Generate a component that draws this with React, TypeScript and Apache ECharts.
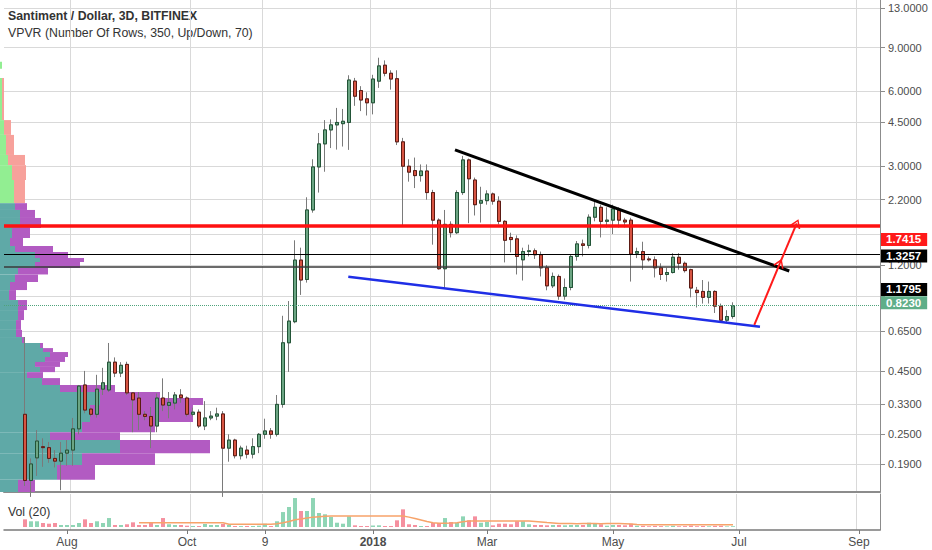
import React, { useEffect, useRef } from 'react';
import * as echarts from 'echarts';

const FONT = '"Liberation Sans", Arial, sans-serif';

// ---- time slots (3-day bars) ----
const slotCount = 146;
const firstSlot = 3; // slot of the first candle
const categories: string[] = Array.from({ length: slotCount }, (_, k) =>
  new Date(Date.UTC(2017, 6, 1) + k * 3 * 86400000).toISOString().slice(0, 10)
);
const xTickSlots = [10, 30, 43, 61, 80, 101, 122, 142];
const xTickLabels = ['Aug', 'Oct', '9', '2018', 'Mar', 'May', 'Jul', 'Sep'];
const xGridSlots = [11, 31, 43, 61, 81, 101, 122, 142];

// ---- price axis ----
const priceMin = 0.1465;
const priceMax = 14.0;
const priceTicks = [13, 9, 6, 4.5, 3, 2.2, 1.6, 1.2, 0.9, 0.65, 0.45, 0.33, 0.25, 0.19];
const priceLabelTicks = [13, 9, 6, 4.5, 3, 2.2, 1.2, 0.65, 0.45, 0.33, 0.25, 0.19];

// ---- candles [open, close, low, high] ----
const candles: number[][] = [
  [0.301, 0.163, 0.155, 0.616], [0.163, 0.19, 0.14, 0.2], [0.201, 0.235, 0.17, 0.26], [0.223, 0.221, 0.185, 0.241],
  [0.221, 0.2, 0.192, 0.233], [0.2, 0.195, 0.184, 0.216], [0.195, 0.21, 0.149, 0.233], [0.21, 0.216, 0.187, 0.237],
  [0.216, 0.263, 0.187, 0.291], [0.263, 0.391, 0.25, 0.395], [0.395, 0.313, 0.304, 0.45], [0.316, 0.301, 0.295, 0.32],
  [0.301, 0.38, 0.292, 0.434], [0.38, 0.403, 0.36, 0.463], [0.377, 0.488, 0.37, 0.583], [0.488, 0.441, 0.425, 0.51],
  [0.441, 0.474, 0.425, 0.488], [0.478, 0.367, 0.36, 0.49], [0.367, 0.344, 0.255, 0.37], [0.35, 0.301, 0.26, 0.37],
  [0.301, 0.295, 0.285, 0.31], [0.295, 0.27, 0.22, 0.322], [0.27, 0.35, 0.255, 0.365], [0.35, 0.328, 0.31, 0.42],
  [0.327, 0.336, 0.29, 0.37], [0.334, 0.36, 0.315, 0.37], [0.36, 0.351, 0.335, 0.38], [0.35, 0.301, 0.295, 0.355],
  [0.301, 0.307, 0.295, 0.32], [0.307, 0.27, 0.265, 0.315], [0.27, 0.291, 0.26, 0.34], [0.291, 0.296, 0.285, 0.31],
  [0.296, 0.302, 0.285, 0.32], [0.302, 0.22, 0.14, 0.31], [0.22, 0.237, 0.194, 0.25], [0.237, 0.205, 0.2, 0.24],
  [0.205, 0.22, 0.198, 0.225], [0.216, 0.208, 0.2, 0.225], [0.208, 0.223, 0.2, 0.241], [0.223, 0.25, 0.21, 0.253],
  [0.25, 0.258, 0.24, 0.289], [0.258, 0.25, 0.24, 0.265], [0.25, 0.33, 0.245, 0.36], [0.33, 0.584, 0.32, 0.75],
  [0.584, 0.714, 0.446, 0.86], [0.71, 1.257, 0.7, 1.51], [1.257, 1.045, 0.91, 1.41], [1.05, 2.0, 1.02, 2.25],
  [2.0, 2.98, 1.95, 3.2], [2.98, 3.69, 2.35, 4.08], [3.69, 4.2, 2.85, 4.6], [4.2, 4.4, 3.55, 4.63],
  [4.4, 4.5, 3.5, 5.15], [4.45, 4.55, 3.6, 5.1], [4.5, 6.67, 3.49, 6.97], [6.6, 5.74, 5.25, 6.8],
  [6.05, 5.54, 5.0, 6.3], [5.6, 5.4, 4.8, 5.95], [5.4, 6.73, 4.85, 7.0], [6.6, 7.6, 6.2, 8.2],
  [7.65, 7.1, 6.9, 8.0], [7.1, 6.73, 6.1, 7.3], [6.75, 3.76, 3.65, 7.3], [3.76, 3.0, 1.73, 3.9],
  [3.0, 2.84, 2.6, 3.2], [2.88, 2.75, 2.45, 3.25], [2.75, 2.87, 2.6, 3.05], [2.87, 2.35, 2.2, 3.05],
  [2.35, 1.82, 1.45, 2.41], [1.82, 1.16, 1.15, 1.85], [1.16, 1.75, 0.97, 2.0], [1.75, 1.62, 1.55, 1.8],
  [1.62, 2.35, 1.6, 2.4], [2.35, 3.18, 2.3, 3.3], [3.18, 2.67, 1.77, 3.22], [2.64, 2.1, 1.9, 2.7],
  [2.13, 2.18, 1.78, 2.48], [2.18, 2.32, 2.1, 2.4], [2.32, 2.17, 2.1, 2.35], [2.17, 1.8, 1.75, 2.27],
  [1.8, 1.51, 1.23, 1.82], [1.55, 1.52, 1.35, 1.62], [1.53, 1.3, 1.1, 1.58], [1.26, 1.36, 1.04, 1.41],
  [1.36, 1.37, 1.3, 1.45], [1.37, 1.32, 1.27, 1.4], [1.32, 1.17, 1.08, 1.36], [1.17, 0.99, 0.95, 1.2],
  [0.99, 1.08, 0.97, 1.12], [1.08, 0.9, 0.87, 1.1], [0.9, 0.975, 0.87, 1.06], [0.975, 1.3, 0.95, 1.32],
  [1.3, 1.46, 1.25, 1.5], [1.46, 1.44, 1.3, 1.52], [1.44, 1.87, 1.4, 1.92], [1.87, 2.05, 1.8, 2.18],
  [2.05, 1.8, 1.55, 2.1], [1.8, 1.82, 1.7, 2.05], [1.82, 2.02, 1.6, 2.1], [2.0, 1.82, 1.7, 2.05],
  [1.82, 1.79, 1.7, 1.86], [1.82, 1.33, 1.03, 1.86], [1.34, 1.36, 1.28, 1.41], [1.36, 1.26, 1.15, 1.49],
  [1.27, 1.26, 1.24, 1.3], [1.26, 1.17, 1.07, 1.3], [1.17, 1.1, 1.045, 1.22], [1.1, 1.12, 1.03, 1.17],
  [1.12, 1.29, 1.11, 1.34], [1.29, 1.22, 1.15, 1.34], [1.22, 1.14, 1.12, 1.24], [1.15, 0.97, 0.89, 1.16],
  [0.95, 0.93, 0.81, 0.98], [0.94, 0.89, 0.84, 1.045], [0.89, 0.94, 0.84, 1.03], [0.94, 0.82, 0.77, 0.95],
  [0.82, 0.72, 0.71, 0.84], [0.72, 0.745, 0.7, 0.79], [0.745, 0.823, 0.73, 0.85],
];

// ---- volume (thousands) ----
const volumes: number[] = [
  590, 440, 440, 310, 255, 310, 155, 155, 155, 310,
  590, 310, 440, 310, 690, 155, 155, 210, 360, 155,
  155, 330, 155, 690, 210, 155, 155, 100, 77, 77,
  230, 155, 155, 230, 155, 77, 70, 80, 77, 100,
  255, 77, 440, 1150, 1540, 2230, 1230, 1230, 2230, 1080,
  980, 770, 330, 255, 820, 130, 77, 77, 115, 130,
  77, 77, 515, 1360, 210, 155, 77, 77, 310, 310,
  690, 385, 330, 820, 515, 820, 330, 385, 130, 255,
  255, 210, 440, 440, 210, 155, 155, 130, 155, 155,
  130, 155, 155, 155, 330, 255, 210, 100, 155, 155,
  130, 255, 100, 90, 60, 85, 70, 50, 95, 60,
  70, 110, 60, 75, 55, 90, 100, 45, 60.905,
];
const volumeMA: (number | null)[] = [
  null, null, null, null, null, null, null, null, null, null,
  null, null, null, null, null, null, null, null, null, 335,
  332, 330, 332, 335, 333, 330, 328, 330, 332, 330,
  328, 326, 328, 330, 215, 212, 210, 208, 210, 212,
  210, 212, 250, 330, 420, 560, 620, 700, 760, 790,
  820, 840, 850, 852, 850, 848, 850, 852, 850, 848,
  850, 852, 850, 848, 760, 650, 540, 430, 330, 290,
  290, 300, 330, 400, 455, 460, 462, 460, 458, 460,
  462, 460, 458, 460, 460, 420, 380, 340, 310, 265,
  262, 260, 258, 260, 262, 260, 258, 260, 262, 260,
  258, 230, 185, 182, 180, 178, 180, 182, 180, 178,
  180, 182, 180, 178, 180, 182, 180, 178, 180,
];
const volumeTagValue = 1384;
const volumeLast = 60.905;

// ---- horizontal levels & drawings (slot index, price) ----
const priceLevels = [1.7415, 1.3257, 1.1795, 0.823];
const resistanceLine = [[74.67, 3.49], [130.38, 1.136]];
const supportLine = [[56.88, 1.078], [125.5, 0.678]];
const targetArrow = [[124.55, 0.689], [128.83, 1.223], [131.62, 1.767]];

// ---- visible range volume profile rows: [low, high, upVolume, downVolume] ----
const vpRows: number[][] = [
  [7.4, 7.9, 2, 0], [4.6, 6.79, 2, 2], [4.01, 4.6, 4, 7], [3.33, 4.01, 6, 8],
  [3.03, 3.33, 8, 17], [2.64, 3.03, 12, 14], [2.13, 2.64, 14, 11], [2.0, 2.13, 15, 12],
  [1.857, 2.0, 20, 15], [1.692, 1.857, 20, 21], [1.542, 1.692, 12, 18], [1.432, 1.542, 10, 13],
  [1.355, 1.432, 15, 38], [1.281, 1.355, 35, 33], [1.235, 1.281, 40, 44], [1.168, 1.235, 35, 45],
  [1.1, 1.168, 18, 30], [1.026, 1.1, 15, 23], [0.952, 1.026, 10, 17], [0.868, 0.952, 9, 7],
  [0.791, 0.868, 18, 9], [0.721, 0.791, 18, 6], [0.658, 0.721, 16, 5], [0.616, 0.658, 16, 6],
  [0.583, 0.616, 22, 3], [0.556, 0.583, 40, 3], [0.536, 0.556, 43, 10], [0.512, 0.536, 50, 18],
  [0.489, 0.512, 45, 20], [0.467, 0.489, 35, 25], [0.445, 0.467, 40, 15], [0.421, 0.445, 27, 16],
  [0.395, 0.421, 42, 18], [0.37, 0.395, 60, 55], [0.35, 0.37, 100, 60], [0.328, 0.35, 100, 103],
  [0.28, 0.328, 90, 103], [0.255, 0.28, 82, 73], [0.237, 0.255, 50, 70], [0.21, 0.237, 120, 90],
  [0.188, 0.21, 82, 73], [0.164, 0.188, 57, 38], [0.146, 0.164, 18, 17],
];
const valueAreaHigh = 2.13;
const profileScaleMax = 876;

const ln = Math.log;
const UP = '#6ba583';
const DOWN = '#d75442';
const GRID = '#d9d9d9';
const CHEVRON = 'path://M0,9 L5,0 L10,9 L8.6,9.6 L5,2.6 L1.4,9.6 Z';

function buildOption() {
  const wickData = candles.map((c, i) => [i + firstSlot, ln(c[0]), ln(c[1]), ln(c[2]), ln(c[3])]);
  const bodyData = candles.map((c, i) => [
    i + firstSlot, ln(c[0]), ln(c[1]), ln(Math.min(c[0], c[1])), ln(Math.max(c[0], c[1])),
  ]);
  const volData = volumes.map((v, i) => ({
    value: [i + firstSlot, v],
    itemStyle: { color: candles[i][1] >= candles[i][0] ? '#8fd5b5' : '#f5909f' },
  }));
  const maData = volumeMA
    .map((v, i) => (v == null ? null : [i + firstSlot, v]))
    .filter((d) => d !== null);
  const vpData = vpRows.map((r) => [ln(r[0]), ln(r[1]), r[2], r[3]]);

  const levelStyles = [
    { line: { color: '#ff1111', width: 3.5, type: 'solid' }, bg: '#ff1a1a', fg: '#ffffff', dy: 14 },
    { line: { color: '#000000', width: 1, type: 'solid' }, bg: '#000000', fg: '#ffffff', dy: 1.5 },
    { line: { color: '#3a3a3a', width: 1.5, type: 'solid' }, bg: '#000000', fg: '#ffffff', dy: 23 },
    { line: { color: '#4fa37b', width: 1, type: 'dotted' }, bg: '#5fae88', fg: '#ffffff', dy: -2.5 },
  ];
  const levelMarks = priceLevels.map((p, idx) => ({
    yAxis: ln(p),
    lineStyle: levelStyles[idx].line,
    label: {
      show: true,
      position: 'end',
      distance: 1,
      formatter: p.toFixed(4),
      backgroundColor: levelStyles[idx].bg,
      color: levelStyles[idx].fg,
      fontWeight: 'bold',
      fontSize: 11.5,
      fontFamily: FONT,
      lineHeight: 12,
      padding: [1, 6, 0, 5],
      offset: [0, levelStyles[idx].dy],
    },
  }));

  const segment = (a: number[], b: number[], color: string, width: number, endSymbol?: string) => [
    { coord: [a[0], ln(a[1])], symbol: 'none', lineStyle: { color, width, type: 'solid' } },
    {
      coord: [b[0], ln(b[1])],
      symbol: endSymbol || 'none',
      symbolSize: [11, 9],
      lineStyle: { color, width, type: 'solid' },
    },
  ];

  return {
    animation: false,
    backgroundColor: '#ffffff',
    textStyle: { fontFamily: FONT },
    grid: [
      { left: 4, top: 0, width: 876, height: 492 },
      { left: 4, top: 494, width: 876, height: 36 },
      { left: 0, top: 0, width: 876, height: 492 },
    ],
    xAxis: [
      {
        type: 'category', gridIndex: 0, data: categories, boundaryGap: true,
        axisLabel: { show: false }, axisTick: { show: false },
        axisLine: { show: true, onZero: false, lineStyle: { color: '#8c8c8c', width: 2 } },
        splitLine: { show: true, interval: (i: number) => xGridSlots.includes(i), lineStyle: { color: GRID } },
      },
      {
        type: 'category', gridIndex: 1, data: categories, boundaryGap: true,
        axisLine: { show: true, onZero: false, lineStyle: { color: '#7a7a7a', width: 1.5 } },
        axisTick: { show: true, alignWithLabel: true, interval: (i: number) => xTickSlots.includes(i), length: 4, lineStyle: { color: '#7a7a7a' } },
        axisLabel: {
          show: true, interval: (i: number) => xTickSlots.includes(i), margin: 6,
          color: '#4d4d4d', fontSize: 12, fontFamily: FONT,
          formatter: (_v: string, i: number) => {
            const n = xTickSlots.indexOf(i);
            if (n < 0) return '';
            const t = xTickLabels[n];
            return /^\d{4}$/.test(t) ? '{b|' + t + '}' : t;
          },
          rich: { b: { fontWeight: 'bold', fontSize: 12, color: '#4d4d4d', fontFamily: FONT } },
        },
        splitLine: { show: true, interval: (i: number) => xGridSlots.includes(i), lineStyle: { color: GRID } },
      },
      { type: 'value', gridIndex: 2, min: 0, max: profileScaleMax, show: false },
      { type: 'value', gridIndex: 0, min: -0.5, max: slotCount - 0.5, show: false },
    ],
    yAxis: [
      {
        type: 'value', gridIndex: 0, position: 'right', min: ln(priceMin), max: ln(priceMax),
        axisLine: { show: true, onZero: false, lineStyle: { color: '#8c8c8c' } },
        axisTick: { show: true, customValues: priceTicks.map(ln), length: 5, lineStyle: { color: '#8c8c8c' } },
        axisLabel: {
          show: true, customValues: priceLabelTicks.map(ln), margin: 8,
          formatter: (v: number) => Math.exp(v).toFixed(4),
          color: '#4d4d4d', fontSize: 11, fontFamily: FONT,
        },
        splitLine: { show: true, lineStyle: { color: GRID } },
      },
      {
        type: 'value', gridIndex: 1, position: 'right', min: -231, max: 2541,
        axisLine: { show: true, onZero: false, lineStyle: { color: '#8c8c8c' } },
        axisTick: { show: false }, axisLabel: { show: false }, splitLine: { show: false },
      },
      { type: 'value', gridIndex: 2, min: ln(priceMin), max: ln(priceMax), show: false },
    ],
    graphic: [
      { type: 'text', left: 8, top: 10, style: { text: 'Santiment / Dollar, 3D, BITFINEX', fontSize: 12.3, fontWeight: 'bold', fontFamily: FONT, fill: '#333333' } },
      { type: 'text', left: 8, top: 27, style: { text: 'VPVR (Number Of Rows, 350, Up/Down, 70)', fontSize: 12.3, fontFamily: FONT, fill: '#333333' } },
      { type: 'text', left: 8, top: 506, style: { text: 'Vol (20)', fontSize: 12.3, fontFamily: FONT, fill: '#333333' } },
    ],
    series: [
      {
        type: 'custom', name: 'VPVR', xAxisIndex: 2, yAxisIndex: 2, z: 1, silent: true,
        data: vpData, encode: { x: [2, 3], y: [0, 1] }, clip: true,
        renderItem: (_p: any, api: any) => {
          const lo = api.value(0), hi = api.value(1), up = api.value(2), dn = api.value(3);
          const a = api.coord([0, hi]);
          const b = api.coord([up, lo]);
          const c = api.coord([up + dn, lo]);
          const va = Math.exp(hi) <= valueAreaHigh + 1e-6;
          return {
            type: 'group',
            children: [
              { type: 'rect', shape: { x: a[0], y: a[1], width: b[0] - a[0], height: b[1] - a[1] }, style: { fill: va ? '#5fa9a7' : '#92ee92' } },
              { type: 'rect', shape: { x: b[0], y: a[1], width: c[0] - b[0], height: b[1] - a[1] }, style: { fill: va ? '#b25bc2' : '#f7a19b' } },
            ],
          };
        },
      },
      {
        type: 'candlestick', name: 'wick', xAxisIndex: 0, yAxisIndex: 0, z: 3, barWidth: 4,
        data: wickData, encode: { x: 0, y: [1, 2, 3, 4] },
        itemStyle: { color: UP, color0: DOWN, borderColor: '#7a7a7a', borderColor0: '#7a7a7a', borderWidth: 1 },
      },
      {
        type: 'candlestick', name: 'body', xAxisIndex: 0, yAxisIndex: 0, z: 4, barWidth: 4,
        data: bodyData, encode: { x: 0, y: [1, 2, 3, 4] },
        itemStyle: { color: UP, color0: DOWN, borderColor: '#225437', borderColor0: '#5b1a13', borderWidth: 1 },
      },
      {
        type: 'line', name: 'drawings', xAxisIndex: 3, yAxisIndex: 0, z: 6, data: [],
        markLine: {
          silent: true, symbol: ['none', 'none'], animation: false,
          lineStyle: { type: 'solid' },
          label: { show: false },
          data: [
            ...levelMarks,
            segment(resistanceLine[0], resistanceLine[1], '#000000', 3),
            segment(supportLine[0], supportLine[1], '#1f2ee6', 2.5),
            segment(targetArrow[0], targetArrow[1], '#ff1a1a', 2, CHEVRON),
            segment(targetArrow[1], targetArrow[2], '#ff1a1a', 2, CHEVRON),
          ],
        },
      },
      {
        type: 'bar', name: 'Vol', xAxisIndex: 1, yAxisIndex: 1, barWidth: 4, data: volData, z: 2,
        markLine: {
          silent: true, symbol: ['none', 'none'], animation: false,
          lineStyle: { opacity: 0 },
          data: [
            {
              yAxis: volumeTagValue,
              label: { show: true, position: 'end', distance: 1, formatter: (volumeTagValue / 1000).toFixed(3) + 'M', backgroundColor: '#ff9f5f', color: '#222222', fontSize: 11.5, fontFamily: FONT, lineHeight: 12, padding: [1, 6, 0, 5] },
            },
            {
              yAxis: volumeLast,
              label: { show: true, position: 'end', distance: 1, formatter: volumeLast.toFixed(3) + 'K', backgroundColor: '#5fb38a', color: '#ffffff', fontSize: 11.5, fontFamily: FONT, lineHeight: 12, padding: [1, 6, 0, 5] },
            },
          ],
        },
      },
      {
        type: 'line', name: 'MA', xAxisIndex: 1, yAxisIndex: 1, data: maData, showSymbol: false, z: 3,
        lineStyle: { color: '#f7a36a', width: 1.5 },
      },
    ],
  };
}

export default function App() {
  const ref = useRef<HTMLDivElement>(null);
  useEffect(() => {
    document.body.style.margin = '0';
    const chart = echarts.init(ref.current!, null, { renderer: 'svg' });
    chart.setOption(buildOption() as any);
    return () => chart.dispose();
  }, []);
  return <div ref={ref} style={{ width: 932, height: 550 }} />;
}
